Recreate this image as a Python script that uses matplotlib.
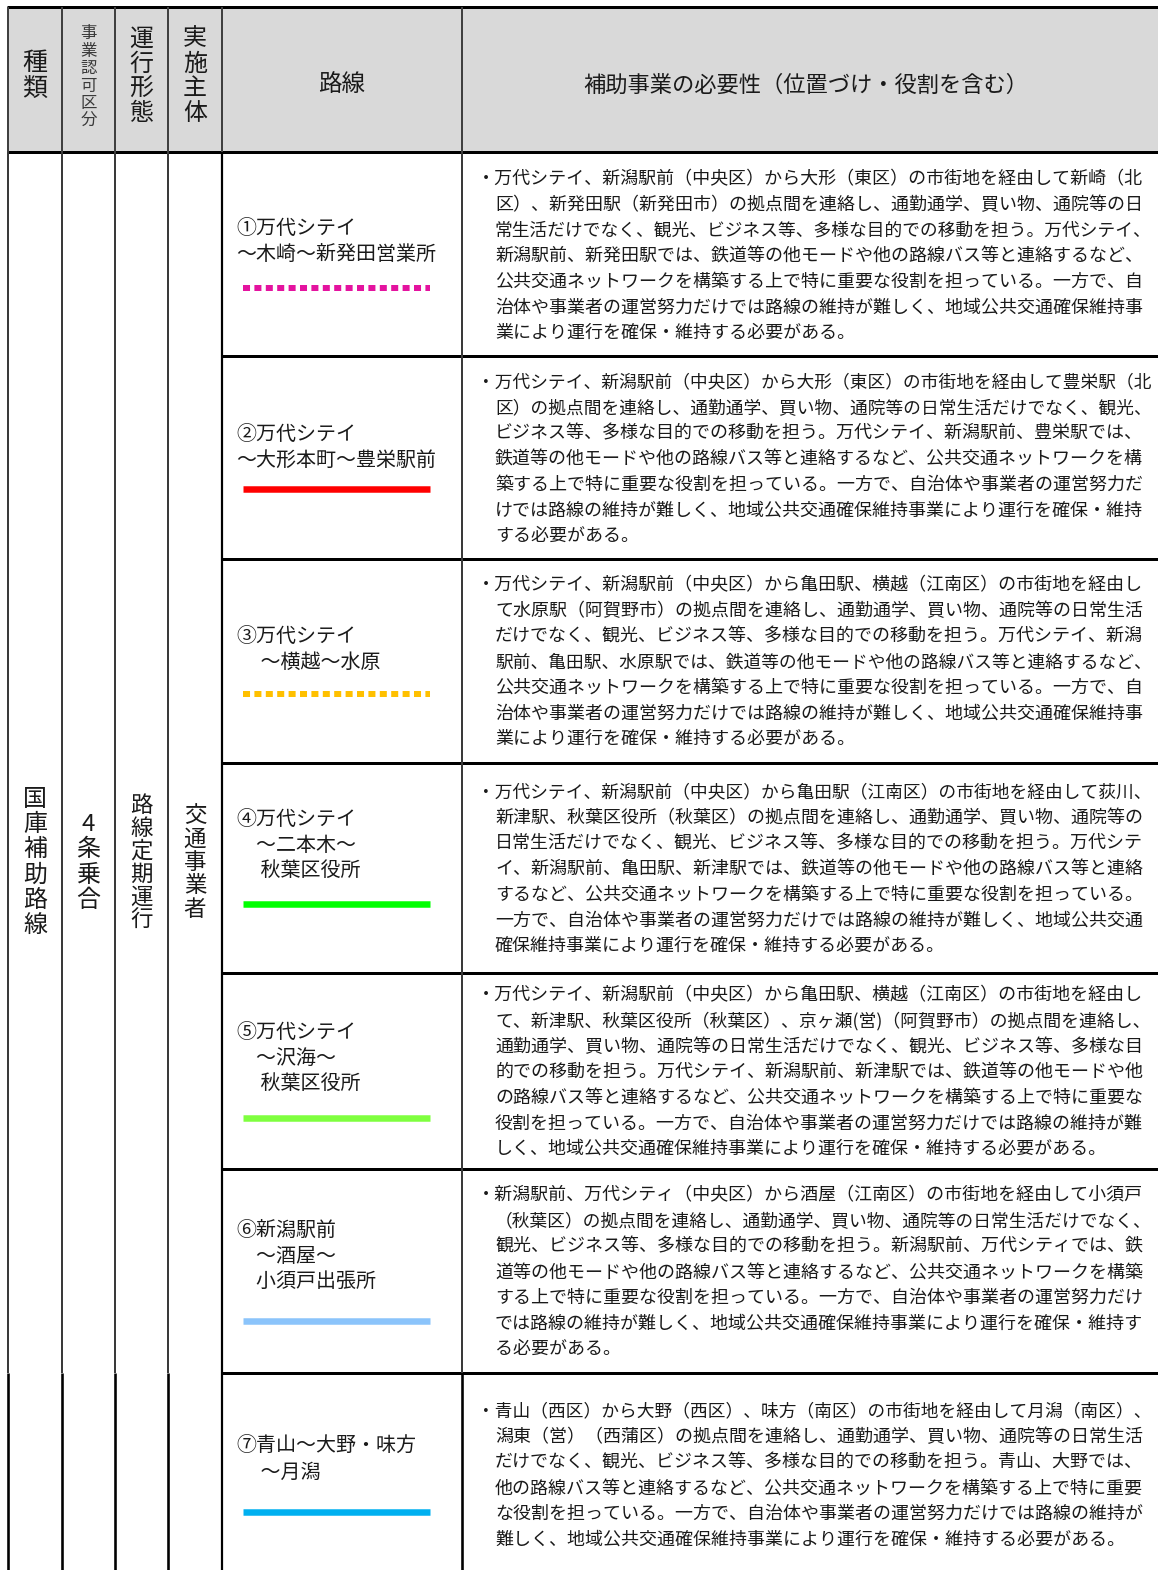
import matplotlib
matplotlib.use("Agg")
import matplotlib.pyplot as plt
from matplotlib.patches import Rectangle

plt.rcParams['font.family'] = ['Noto Sans CJK JP', 'DejaVu Sans']

# ---------------- data ----------------
header_vertical = ["種類", "事業認可区分", "運行形態", "実施主体"]
header_route = "路線"
header_need = "補助事業の必要性（位置づけ・役割を含む）"

merged_cells = ["国庫補助路線", "4条乗合", "路線定期運行", "交通事業者"]

route_labels = [
    ["①万代シテイ", "～木崎～新発田営業所"],
    ["②万代シテイ", "～大形本町～豊栄駅前"],
    ["③万代シテイ", "　 ～横越～水原"],
    ["④万代シテイ", "　～二本木～", "　 秋葉区役所"],
    ["⑤万代シテイ", "　～沢海～", "　 秋葉区役所"],
    ["⑥新潟駅前", "　～酒屋～", "　小須戸出張所"],
    ["⑦青山～大野・味方", "　 ～月潟"],
]
route_colors = ["#e4139f", "#ff0000", "#ffc000", "#00ff00", "#7fff3f", "#8bc4fb", "#00b0f0"]
route_styles = ["dashed", "solid", "dashed", "solid", "solid", "solid", "solid"]

descriptions = [
    ["・万代シテイ、新潟駅前（中央区）から大形（東区）の市街地を経由して新崎（北",
     "区）、新発田駅（新発田市）の拠点間を連絡し、通勤通学、買い物、通院等の日",
     "常生活だけでなく、観光、ビジネス等、多様な目的での移動を担う。万代シテイ、",
     "新潟駅前、新発田駅では、鉄道等の他モードや他の路線バス等と連絡するなど、",
     "公共交通ネットワークを構築する上で特に重要な役割を担っている。一方で、自",
     "治体や事業者の運営努力だけでは路線の維持が難しく、地域公共交通確保維持事",
     "業により運行を確保・維持する必要がある。"],
    ["・万代シテイ、新潟駅前（中央区）から大形（東区）の市街地を経由して豊栄駅（北",
     "区）の拠点間を連絡し、通勤通学、買い物、通院等の日常生活だけでなく、観光、",
     "ビジネス等、多様な目的での移動を担う。万代シテイ、新潟駅前、豊栄駅では、",
     "鉄道等の他モードや他の路線バス等と連絡するなど、公共交通ネットワークを構",
     "築する上で特に重要な役割を担っている。一方で、自治体や事業者の運営努力だ",
     "けでは路線の維持が難しく、地域公共交通確保維持事業により運行を確保・維持",
     "する必要がある。"],
    ["・万代シテイ、新潟駅前（中央区）から亀田駅、横越（江南区）の市街地を経由し",
     "て水原駅（阿賀野市）の拠点間を連絡し、通勤通学、買い物、通院等の日常生活",
     "だけでなく、観光、ビジネス等、多様な目的での移動を担う。万代シテイ、新潟",
     "駅前、亀田駅、水原駅では、鉄道等の他モードや他の路線バス等と連絡するなど、",
     "公共交通ネットワークを構築する上で特に重要な役割を担っている。一方で、自",
     "治体や事業者の運営努力だけでは路線の維持が難しく、地域公共交通確保維持事",
     "業により運行を確保・維持する必要がある。"],
    ["・万代シテイ、新潟駅前（中央区）から亀田駅（江南区）の市街地を経由して荻川、",
     "新津駅、秋葉区役所（秋葉区）の拠点間を連絡し、通勤通学、買い物、通院等の",
     "日常生活だけでなく、観光、ビジネス等、多様な目的での移動を担う。万代シテ",
     "イ、新潟駅前、亀田駅、新津駅では、鉄道等の他モードや他の路線バス等と連絡",
     "するなど、公共交通ネットワークを構築する上で特に重要な役割を担っている。",
     "一方で、自治体や事業者の運営努力だけでは路線の維持が難しく、地域公共交通",
     "確保維持事業により運行を確保・維持する必要がある。"],
    ["・万代シテイ、新潟駅前（中央区）から亀田駅、横越（江南区）の市街地を経由し",
     "て、新津駅、秋葉区役所（秋葉区）、京ヶ瀬(営)（阿賀野市）の拠点間を連絡し、",
     "通勤通学、買い物、通院等の日常生活だけでなく、観光、ビジネス等、多様な目",
     "的での移動を担う。万代シテイ、新潟駅前、新津駅では、鉄道等の他モードや他",
     "の路線バス等と連絡するなど、公共交通ネットワークを構築する上で特に重要な",
     "役割を担っている。一方で、自治体や事業者の運営努力だけでは路線の維持が難",
     "しく、地域公共交通確保維持事業により運行を確保・維持する必要がある。"],
    ["・新潟駅前、万代シティ（中央区）から酒屋（江南区）の市街地を経由して小須戸",
     "（秋葉区）の拠点間を連絡し、通勤通学、買い物、通院等の日常生活だけでなく、",
     "観光、ビジネス等、多様な目的での移動を担う。新潟駅前、万代シティでは、鉄",
     "道等の他モードや他の路線バス等と連絡するなど、公共交通ネットワークを構築",
     "する上で特に重要な役割を担っている。一方で、自治体や事業者の運営努力だけ",
     "では路線の維持が難しく、地域公共交通確保維持事業により運行を確保・維持す",
     "る必要がある。"],
    ["・青山（西区）から大野（西区）、味方（南区）の市街地を経由して月潟（南区）、",
     "潟東（営）（西蒲区）の拠点間を連絡し、通勤通学、買い物、通院等の日常生活",
     "だけでなく、観光、ビジネス等、多様な目的での移動を担う。青山、大野では、",
     "他の路線バス等と連絡するなど、公共交通ネットワークを構築する上で特に重要",
     "な役割を担っている。一方で、自治体や事業者の運営努力だけでは路線の維持が",
     "難しく、地域公共交通確保維持事業により運行を確保・維持する必要がある。"],
]

# ---------------- layout ----------------
W, H = 1158, 1570
col_x = [8, 62, 115, 168, 222, 462]
top_y, head_y = 7, 152
row_y = [152, 356, 559, 763, 973, 1169, 1373, 1570]
label_first_y = [226, 432, 634, 817, 1030, 1228, 1444]
sample_y = [288, 489, 694, 904, 1118, 1321, 1512]
desc_first_y = [177, 380, 583, 790, 993, 1193, 1409]
desc_step = 25.6
label_step = 25.7
dy = 2.5          # small downward nudge for text centring
desc_right = 1150

px = 72 / 100.0  # pixels -> points

fig = plt.figure(figsize=(W / 100, H / 100), dpi=100)
ax = fig.add_axes([0, 0, 1, 1])
ax.set_xlim(0, W)
ax.set_ylim(H, 0)
ax.axis("off")

# header background
ax.add_patch(Rectangle((col_x[0], top_y), W - col_x[0], head_y - top_y,
                       facecolor="#d9d9d9", edgecolor="none", zorder=0))

# ---------------- grid lines ----------------
def hline(y, x0, x1, lw=3, c="black"):
    ax.plot([x0, x1], [y, y], color=c, lw=lw * px, solid_capstyle="butt", zorder=3)

def vline(x, y0, y1, lw=2, c="black"):
    ax.plot([x, x], [y0, y1], color=c, lw=lw * px, solid_capstyle="butt", zorder=3)

hline(top_y, col_x[0] - 1, W, lw=3)
hline(head_y, col_x[0] - 1, W, lw=3)
for y in row_y[1:-1]:
    hline(y, col_x[4], W, lw=3)

for i, x in enumerate(col_x):
    vline(x, top_y, head_y, lw=2, c="#404040")
    if i == 4:
        vline(x, head_y, H, lw=2.2, c="black")
    else:
        vline(x, head_y, row_y[-2], lw=2, c="#3a3a3a")
        vline(x, row_y[-2], H, lw=2.6, c="black")

# ---------------- header text ----------------
txt_c = "#1a1a1a"
def vertical_text(s, xc, yc, step, size_px, color=txt_c):
    n = len(s)
    y0 = yc - step * (n - 1) / 2
    for k, ch in enumerate(s):
        ax.text(xc, y0 + k * step + dy, ch, ha="center", va="center",
                fontsize=size_px * px, color=color, zorder=4)

head_cx = [(col_x[i] + col_x[i + 1]) / 2 for i in range(4)]
vertical_text(header_vertical[0], head_cx[0], 73, 26, 25)
vertical_text(header_vertical[1], head_cx[1], 75, 17.5, 16.5, color="#3a3a3a")
vertical_text(header_vertical[2], head_cx[2], 74, 25, 24)
vertical_text(header_vertical[3], head_cx[3], 74, 25, 24)
ax.text((col_x[4] + col_x[5]) / 2, 82 + dy, header_route, ha="center", va="center",
        fontsize=23.5 * px, color=txt_c)
ax.text(806, 83 + dy, header_need, ha="center", va="center", fontsize=22.3 * px, color=txt_c)

# merged body cells
vertical_text(merged_cells[0], head_cx[0], 860, 25.2, 24)
vertical_text(merged_cells[1], head_cx[1], 860, 25.3, 24)
vertical_text(merged_cells[2], head_cx[2], 860, 23, 22.5)
vertical_text(merged_cells[3], head_cx[3], 860, 23.5, 22.5)

# ---------------- routes ----------------
for r, lines in enumerate(route_labels):
    for j, line in enumerate(lines):
        ax.text(236, label_first_y[r] + j * label_step + dy, line, ha="left", va="center",
                fontsize=20 * px, color=txt_c, zorder=4)
    if route_styles[r] == "dashed":
        ax.plot([243, 430], [sample_y[r]] * 2, color=route_colors[r], lw=6 * px,
                linestyle=(0, (1.17, 0.73)), dash_capstyle="butt", zorder=4)
    else:
        ax.plot([243, 430], [sample_y[r]] * 2, color=route_colors[r], lw=6.5 * px,
                solid_capstyle="butt", zorder=4)

renderer = fig.canvas.get_renderer()
for r, lines in enumerate(descriptions):
    for j, line in enumerate(lines):
        x = 477 if j == 0 else 495
        t = ax.text(x, desc_first_y[r] + j * desc_step + dy, line, ha="left", va="center",
                    fontsize=18 * px, color=txt_c, zorder=4)
        w = t.get_window_extent(renderer).width
        avail = desc_right - x
        if w > avail:
            t.set_fontsize(18 * px * avail / w)

fig.savefig("out.png", dpi=100, facecolor="white")
